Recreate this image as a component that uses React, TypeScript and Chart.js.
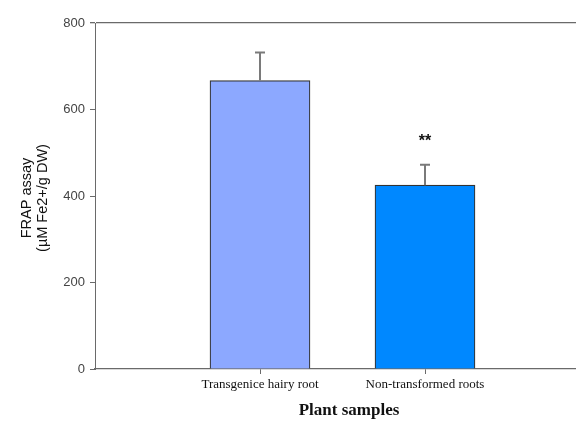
import React, { useEffect, useRef } from "react";
import { Chart, registerables } from "chart.js";

Chart.register(...registerables);

const categories = ["Transgenice hairy root", "Non-transformed roots"];
const meanValues = [667, 425];
const errorTops = [732, 472];
const annotations = ["", "**"];
const barColors = ["#8CA8FF", "#0088FF"];
const yTicks = [0, 200, 400, 600, 800];
const yTitleLines = ["FRAP assay", "(µM Fe2+/g DW)"];
const xTitle = "Plant samples";

const extrasPlugin = {
  id: "extras",
  afterDatasetsDraw(chart: any) {
    const { ctx, scales } = chart;
    const xs = scales.x;
    const ys = scales.y;
    ctx.save();
    ctx.strokeStyle = "#7a7a7a";
    ctx.lineWidth = 2;
    meanValues.forEach((v, i) => {
      const x = xs.getPixelForValue(i);
      const y0 = ys.getPixelForValue(v);
      const y1 = ys.getPixelForValue(errorTops[i]);
      ctx.beginPath();
      ctx.moveTo(x, y0);
      ctx.lineTo(x, y1);
      ctx.moveTo(x - 5, y1);
      ctx.lineTo(x + 5, y1);
      ctx.stroke();
      if (annotations[i]) {
        ctx.fillStyle = "#111";
        ctx.font = "bold 16px 'Liberation Sans', Arial, sans-serif";
        ctx.textAlign = "center";
        ctx.textBaseline = "middle";
        ctx.fillText(annotations[i], x, y1 - 23);
      }
    });
    ctx.restore();
  },
  afterDraw(chart: any) {
    const { ctx } = chart;
    ctx.save();
    ctx.fillStyle = "#111";
    ctx.font = "14.5px 'Liberation Sans', Arial, sans-serif";
    ctx.textAlign = "center";
    ctx.textBaseline = "middle";
    const lineXs = [27, 43];
    yTitleLines.forEach((t, i) => {
      ctx.save();
      ctx.translate(lineXs[i], 198);
      ctx.rotate(-Math.PI / 2);
      ctx.fillText(t, 0, 0);
      ctx.restore();
    });
    ctx.font = "bold 17px 'Liberation Serif', 'Times New Roman', serif";
    ctx.fillText(xTitle, 349, 411);
    ctx.restore();
  },
};

export default function App() {
  const ref = useRef<HTMLCanvasElement>(null);
  useEffect(() => {
    if (!ref.current) return;
    const chart = new Chart(ref.current, {
      type: "bar",
      data: {
        datasets: [
          {
            data: meanValues.map((v, i) => ({ x: i, y: v })),
            backgroundColor: barColors,
            borderColor: "#333333",
            borderWidth: 1.2,
            barThickness: 100,
          } as any,
        ],
      },
      options: {
        animation: false,
        responsive: false,
        devicePixelRatio: 1,
        layout: { padding: { top: 23, right: 0, left: 0, bottom: 0 } },
        plugins: {
          legend: { display: false },
          tooltip: { enabled: false },
        },
        scales: {
          x: {
            type: "linear",
            offset: false,
            min: -1,
            max: (576 - 95) / 165 - 1,
            afterBuildTicks(scale: any) {
              scale.ticks = categories.map((_, i) => ({ value: i }));
            },
            afterFit(scale: any) {
              scale.height = 52;
            },
            border: { display: true, color: "#6a6a6a", width: 1.3 },
            grid: {
              offset: false,
              drawOnChartArea: false,
              drawTicks: true,
              tickLength: 5,
              tickColor: "#6a6a6a",
            },
            ticks: {
              autoSkip: false,
              maxRotation: 0,
              padding: 3,
              color: "#111",
              font: { family: "'Liberation Serif', 'Times New Roman', serif", size: 13 },
              callback: (v: any) => categories[v as number] ?? "",
            },
          },
          y: {
            min: 0,
            max: 800,
            afterBuildTicks(scale: any) {
              scale.ticks = yTicks.map((v) => ({ value: v }));
            },
            afterFit(scale: any) {
              scale.width = 95;
            },
            border: { display: true, color: "#6a6a6a", width: 1 },
            grid: {
              drawTicks: true,
              tickLength: 5,
              tickColor: "#6a6a6a",
              lineWidth: (c: any) => (c.tick && c.tick.value === 800 ? 1.3 : 1),
              color: (c: any) => (c.tick && c.tick.value === 800 ? "#6a6a6a" : "rgba(0,0,0,0)"),
            },
            ticks: {
              padding: 5,
              color: "#444",
              font: { family: "'Liberation Sans', Arial, sans-serif", size: 13 },
            },
          },
        },
      } as any,
      plugins: [extrasPlugin],
    });
    return () => chart.destroy();
  }, []);
  return (
    <div style={{ position: "fixed", left: 0, top: 0, width: 576, height: 421, background: "#fff" }}>
      <canvas ref={ref} width={576} height={421} style={{ display: "block" }} />
    </div>
  );
}
